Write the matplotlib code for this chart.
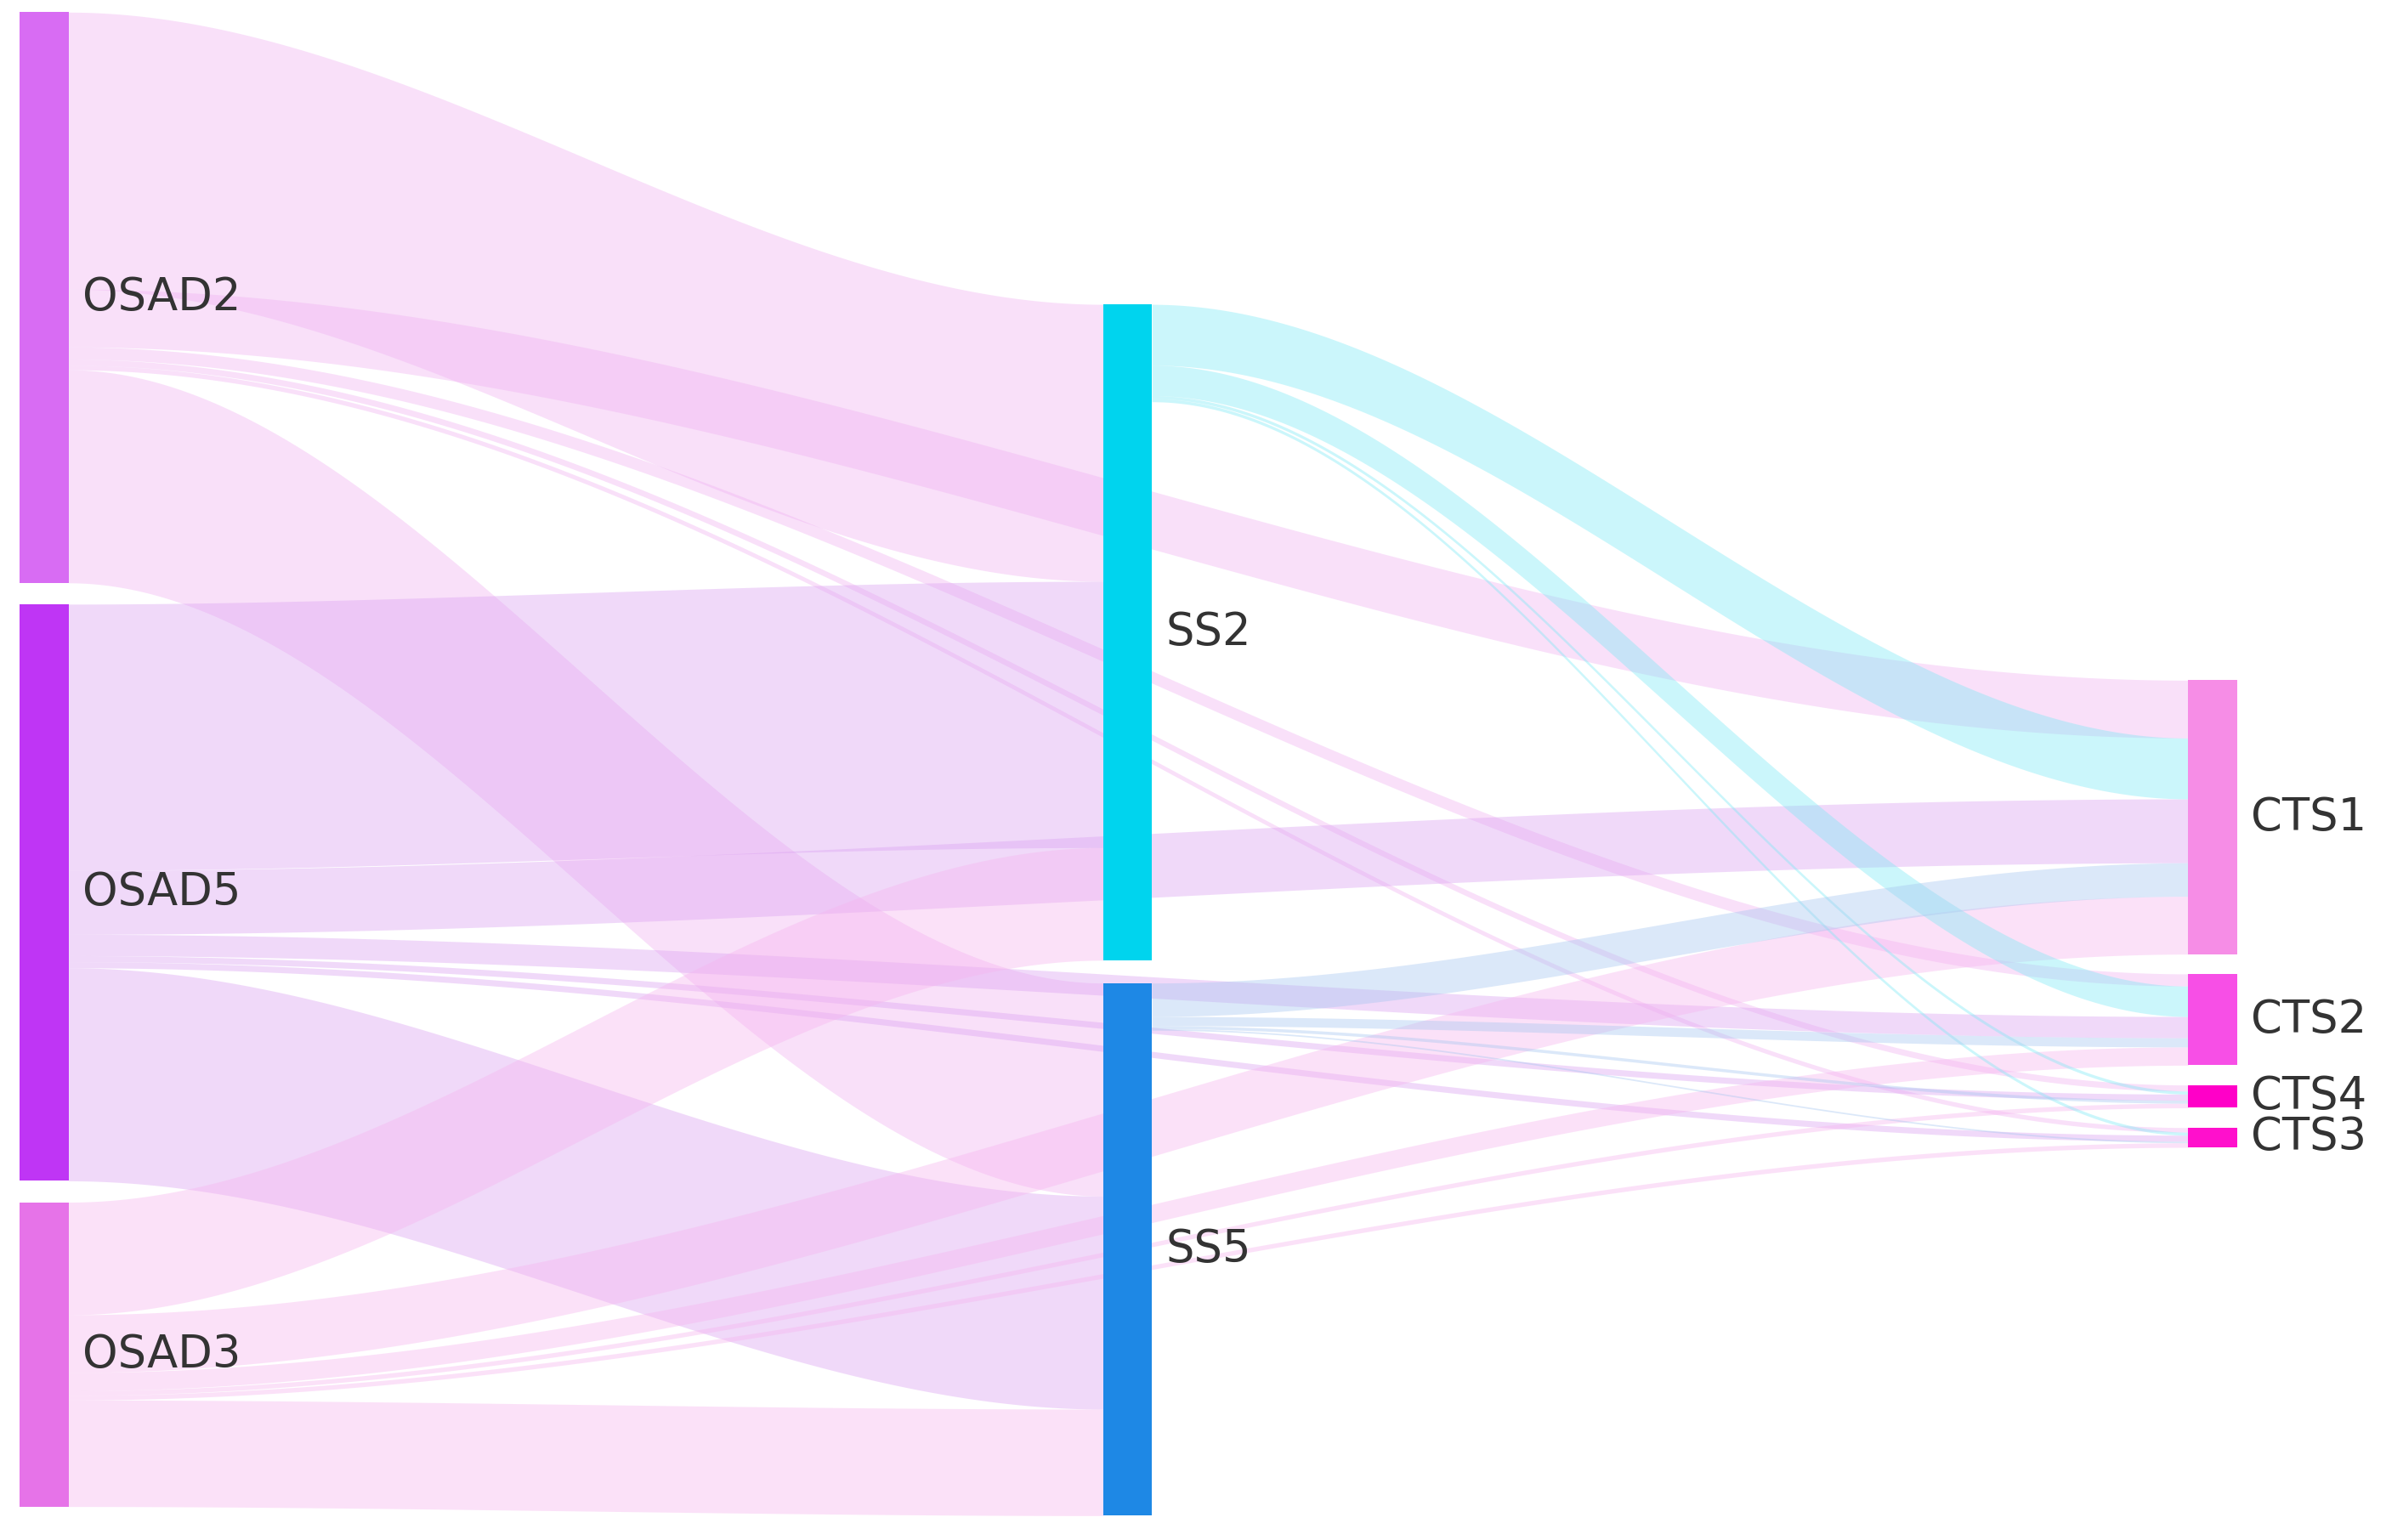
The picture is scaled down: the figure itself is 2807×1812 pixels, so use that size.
import numpy as np
import matplotlib.pyplot as plt

# --- data ---
NODES = ["OSAD2", "OSAD5", "OSAD3", "SS2", "SS5", "CTS1", "CTS2", "CTS4", "CTS3"]
NODE_COL = [0, 0, 0, 1, 1, 2, 2, 2, 2]
NODE_COLORS = ["#d86cf3", "#bf35f5", "#e673e8", "#00d4ee", "#1e88e5",
               "#f68de6", "#f74fe6", "#ff00c8", "#ff10cc"]
LINK_COLORS = {"OSAD2": "#f0b2f2", "OSAD5": "#dba2f2", "OSAD3": "#f7b5ef",
               "SS2": "#7eeaf5", "SS5": "#a6c6f0"}

SOURCES = ["OSAD2", "OSAD2", "OSAD2", "OSAD2", "OSAD2", "OSAD2",
           "OSAD5", "OSAD5", "OSAD5", "OSAD5", "OSAD5", "OSAD5",
           "OSAD3", "OSAD3", "OSAD3", "OSAD3", "OSAD3", "OSAD3",
           "SS2", "SS2", "SS2", "SS2",
           "SS5", "SS5", "SS5", "SS5"]
TARGETS = ["SS2", "SS5", "CTS1", "CTS2", "CTS4", "CTS3",
           "SS2", "SS5", "CTS1", "CTS2", "CTS4", "CTS3",
           "SS2", "SS5", "CTS1", "CTS2", "CTS4", "CTS3",
           "CTS1", "CTS2", "CTS4", "CTS3",
           "CTS1", "CTS2", "CTS4", "CTS3"]
VALUES = [182, 140, 38, 8, 4, 3,
          175, 140, 42, 14, 4, 4,
          74, 70, 38, 12, 3, 3,
          40, 20, 2, 2,
          22, 6, 2, 1]

# --- layout (in reference display units) ---
W, H = 1568, 1012
COL_X = [13, 725, 1438]
NODE_W = 32
COL_TOP = [8, 200, 447]
GAP = [14, 15, 13]

inflow = {n: 0 for n in NODES}
outflow = {n: 0 for n in NODES}
for s, t, v in zip(SOURCES, TARGETS, VALUES):
    outflow[s] += v
    inflow[t] += v
size = {n: max(inflow[n], outflow[n]) for n in NODES}

ytop = {}
for c in range(3):
    y = COL_TOP[c]
    for n, nc in zip(NODES, NODE_COL):
        if nc == c:
            ytop[n] = y
            y += size[n] + GAP[c]
center = {n: ytop[n] + size[n] / 2 for n in NODES}
xcol = {n: COL_X[c] for n, c in zip(NODES, NODE_COL)}

links = list(zip(SOURCES, TARGETS, VALUES))
out_pos, in_pos = {}, {}
for n in NODES:
    outs = sorted([i for i, l in enumerate(links) if l[0] == n], key=lambda i: center[links[i][1]])
    y = ytop[n]
    for i in outs:
        out_pos[i] = y
        y += links[i][2]
    ins = sorted([i for i, l in enumerate(links) if l[1] == n], key=lambda i: center[links[i][0]])
    y = ytop[n]
    for i in ins:
        in_pos[i] = y
        y += links[i][2]

fig = plt.figure(figsize=(28.07, 18.12), dpi=100)
ax = fig.add_axes([0, 0, 1, 1])
ax.set_xlim(0, W)
ax.set_ylim(H, 0)
ax.axis('off')

t = np.linspace(0, 1, 200)
ease = 3 * t ** 2 - 2 * t ** 3
for i, (s, tg, v) in enumerate(links):
    x0 = xcol[s] + NODE_W
    x1 = xcol[tg]
    xs = x0 + (x1 - x0) * t
    top = out_pos[i] + (in_pos[i] - out_pos[i]) * ease
    ax.fill_between(xs, top, top + v, color=LINK_COLORS[s], alpha=0.4, lw=0)

for n, c in zip(NODES, NODE_COLORS):
    ax.add_patch(plt.Rectangle((xcol[n], ytop[n]), NODE_W, size[n], color=c, lw=0))
    ax.text(xcol[n] + NODE_W + 9, center[n], n, fontsize=38, color="#333333",
            va='center', ha='left')

fig.savefig("out.png", dpi=100)
